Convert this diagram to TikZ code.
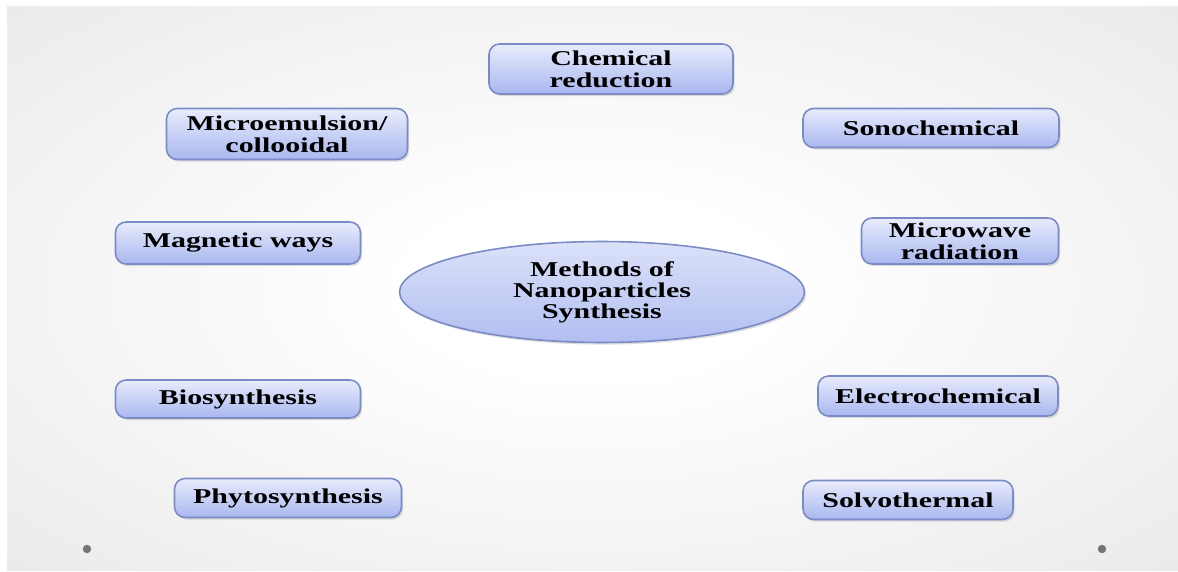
\documentclass[tikz,border=0pt]{standalone}
\usepackage{fontspec}
\setmainfont[FakeStretch=1.42]{Liberation Serif}
\usetikzlibrary{shapes,shadows}
\definecolor{boxtop}{HTML}{E8ECFC}
\definecolor{boxbottom}{HTML}{A9B7EF}
\definecolor{boxline}{HTML}{7B8BC6}
\pgfdeclareradialshading{slidebg}{\pgfpoint{0bp}{0bp}}{color(0bp)=(white); color(8bp)=(white); color(70bp)=(black!18)}
\tikzstyle{block} = [rectangle, draw=boxline, line width=0.9pt, rounded corners=6pt,
top color=boxtop, bottom color=boxbottom, align=center, inner sep=0pt,
font=\fontsize{12}{12.5}\selectfont\bfseries,
drop shadow={opacity=0.25, shadow xshift=1pt, shadow yshift=-1.2pt}]
\tikzstyle{hub} = [ellipse, draw=boxline, line width=0.9pt,
top color=boxtop!80!boxbottom, bottom color=boxbottom!90, align=center, inner sep=0pt,
font=\fontsize{12}{12}\selectfont\bfseries,
drop shadow={opacity=0.25, shadow xshift=1pt, shadow yshift=-1.2pt}]

\begin{document}
\begin{tikzpicture}[x=0.02cm, y=-0.02cm]
	\useasboundingbox (0,0) rectangle (1178,572);
	% Background
	\shade[shading=slidebg] (7,6) rectangle (1178,570);
	\fill[black!55] (87,549) circle (4.2);
	\fill[black!55] (1102,549) circle (4.2);
	
	% Place nodes
	\node [hub, minimum width=8.1cm, minimum height=2.02cm] (methods) at (602,292) {Methods of\\Nanoparticles\\Synthesis};
	\node [block, minimum width=4.88cm, minimum height=1cm] (chemical) at (611,69) {Chemical\\reduction};
	\node [block, minimum width=4.82cm, minimum height=1.02cm] (micro) at (287,134) {Microemulsion/\\collooidal};
	\node [block, minimum width=4.9cm, minimum height=0.84cm] (magnetic) at (238,243) {Magnetic ways};
	\node [block, minimum width=4.9cm, minimum height=0.76cm] (bio) at (238,399) {Biosynthesis};
	\node [block, minimum width=4.54cm, minimum height=0.78cm] (phyto) at (288,498) {Phytosynthesis};
	
	% Place nodes
	\node [block, minimum width=5.12cm, minimum height=0.78cm] (sono) at (931,128) {Sonochemical};
	\node [block, minimum width=3.94cm, minimum height=0.92cm] (microwave) at (960,241) {Microwave\\radiation};
	\node [block, minimum width=4.8cm, minimum height=0.8cm] (electro) at (938,396) {Electrochemical};
	\node [block, minimum width=4.2cm, minimum height=0.78cm] (solvo) at (908,500) {Solvothermal};
\end{tikzpicture}
\end{document}
